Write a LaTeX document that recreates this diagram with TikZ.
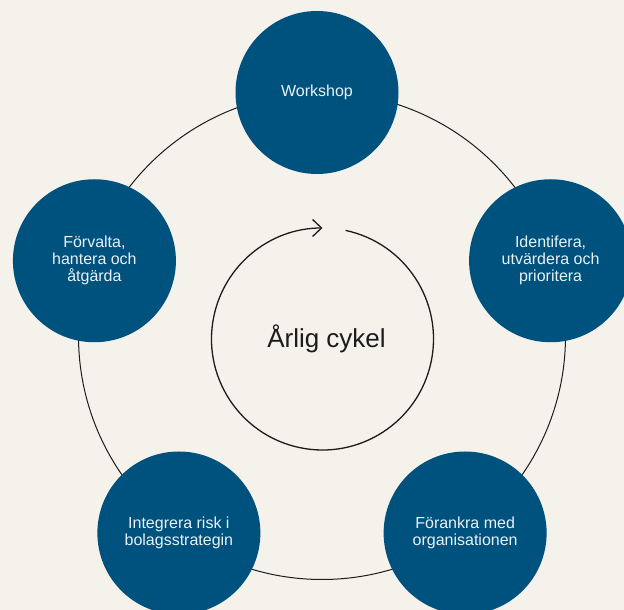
\documentclass[tikz,border=0pt]{standalone}
\usepackage{fontspec}
\setmainfont{Liberation Sans}
\usetikzlibrary{arrows.meta}
\definecolor{CycBlue}{RGB}{0,82,126}
\definecolor{CycBg}{RGB}{244,242,234}
\definecolor{CycText}{RGB}{234,240,244}
\definecolor{CycInk}{RGB}{28,28,28}

\begin{document}
\begin{tikzpicture}[x=1pt,y=1pt,>={Straight Barb[length=9pt,width=17pt]},
  stepnode/.style={circle,fill=CycBlue,minimum size=163pt,inner sep=0pt,text=CycText,align=center,font=\fontsize{16}{17}\selectfont}]
\fill[CycBg] (0,0) rectangle (624,610);
\clip (0,0) rectangle (624,610);
% outer ring with the five steps
\coordinate (c) at (322,274);
\draw[CycInk,line width=1pt] (c) circle (243.5);
\node[stepnode] (workshop) at ([shift={(90:243.5)},xshift=-5pt]c) {Workshop};
\node[stepnode] (identifiera) at ([shift={(18:243.5)},xshift=-3pt]c) {Identifera,\\utvärdera och\\prioritera};
\node[stepnode] (forankra) at ([shift={(-54:243.5)}]c) {Förankra med\\organisationen};
\node[stepnode] (integrera) at ([shift={(-126:243.5)}]c) {Integrera risk i\\bolagsstrategin};
\node[stepnode] (forvalta) at ([shift={(162:243.5)},xshift=4pt]c) {Förvalta,\\hantera och\\åtgärda};
% inner cycle
\coordinate (m) at (322.5,271);
\draw[->,CycInk,line width=1.3pt] ([shift={(78:111)}]m) arc[start angle=78,end angle=-270,radius=111];
\node[text=CycInk,font=\fontsize{26}{30}\selectfont] (cykel) at ([xshift=4pt]m) {Årlig cykel};
\end{tikzpicture}
\end{document}
